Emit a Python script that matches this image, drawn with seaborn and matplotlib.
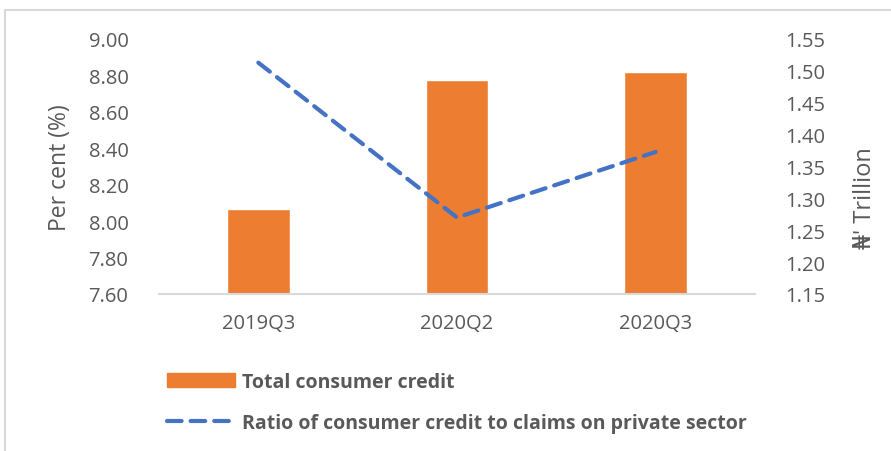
#! /usr/bin/env python3

# libraries
import matplotlib.pyplot as plt
import matplotlib.patches as mpatches
from matplotlib.lines import Line2D
import pandas as pd
import seaborn as sns

sns.set_style("white")
plt.rcParams["font.family"] = ["Open Sans", "DejaVu Sans"]
plt.rcParams["lines.scale_dashes"] = False

GREY = "#595959"
ORANGE = "#ED7D31"
BLUE = "#4472C4"

# data
quarters = ["2019Q3", "2020Q2", "2020Q3"]
credit_trillion = [1.283, 1.486, 1.499]  # Total consumer credit (right axis)
ratio_pct = [8.87, 8.02, 8.38]  # Ratio to claims on private sector (left axis)
pct_ticks = [7.60, 7.80, 8.00, 8.20, 8.40, 8.60, 8.80, 9.00]
trn_ticks = [1.15, 1.20, 1.25, 1.30, 1.35, 1.40, 1.45, 1.50, 1.55]

df = pd.DataFrame({"quarter": quarters, "credit": credit_trillion, "ratio": ratio_pct})

fig = plt.figure(figsize=(8.91, 4.52), dpi=100)
W, H = 891, 452
ax = fig.add_axes([159 / W, 1 - 295 / H, 596 / W, 255 / H])

# bars (trillion) on the primary axes, shown on the right
sns.barplot(data=df, x="quarter", y="credit", color=ORANGE, width=0.315,
            saturation=1, ax=ax, zorder=2)
ax.set_ylim(1.15, 1.55)
ax.set_yticks(trn_ticks)
ax.set_yticklabels([f"{t:.2f}" for t in trn_ticks])
ax.set_xlim(-0.5, 2.5)

# line (per cent) on the twin axes, shown on the left
ax2 = ax.twinx()
sns.pointplot(data=df, x="quarter", y="ratio", color=BLUE, markers="",
              linestyles="--", ax=ax2)
ax2.set_ylim(7.6, 9.0)
ax2.set_yticks(pct_ticks)
ax2.set_yticklabels([f"{t:.2f}" for t in pct_ticks])
ax2.set_xlim(-0.5, 2.5)
for ln in ax2.lines:
    ln.set_linewidth(3.0)
    ln.set_dashes((10.5, 6.5))
    ln.set_dash_capstyle("round")

# swap sides: bars' axis on the right, line's axis on the left
ax.yaxis.tick_right()
ax.yaxis.set_label_position("right")
ax2.yaxis.tick_left()
ax2.yaxis.set_label_position("left")

for a in (ax, ax2):
    for s in a.spines.values():
        s.set_visible(False)
    a.tick_params(length=0, labelsize=14.5, colors=GREY)
    a.set_xlabel("")
ax.spines["bottom"].set_visible(True)
ax.spines["bottom"].set_color("#d9d9d9")
ax.spines["bottom"].set_linewidth(1.5)
ax.tick_params(axis="y", pad=22)
ax2.tick_params(axis="y", pad=22)
ax.tick_params(axis="x", pad=14)

ax2.set_ylabel("Per cent (%)", fontsize=16.5, color=GREY)
ax2.yaxis.set_label_coords(-0.146, 0.5)
ax.set_ylabel("₦' Trillion", fontsize=17, color=GREY, rotation=90)
ax.yaxis.set_label_coords(1.164, 0.38)

# legend below the plot
handles = [
    mpatches.Patch(color=ORANGE, label="Total consumer credit"),
    Line2D([0], [0], color=BLUE, lw=3.0, dashes=(10.5, 6.5),
           dash_capstyle="round",
           label="Ratio of consumer credit to claims on private sector"),
]
leg = fig.legend(handles=handles, loc="upper left",
                 bbox_to_anchor=(149 / W, 1 - 355 / H), frameon=False,
                 prop={"weight": "bold", "size": 14}, handlelength=3.5,
                 handleheight=0.75, handletextpad=0.4, labelspacing=1.1)
for t in leg.get_texts():
    t.set_color(GREY)

# chart frame
fig.patches.append(mpatches.Rectangle((5 / W, -0.05), 1.0, 1 - 11 / H + 0.05,
                                      transform=fig.transFigure, fill=False,
                                      edgecolor="#d9d9d9", lw=1.5))

plt.savefig("out.png", dpi=100)
